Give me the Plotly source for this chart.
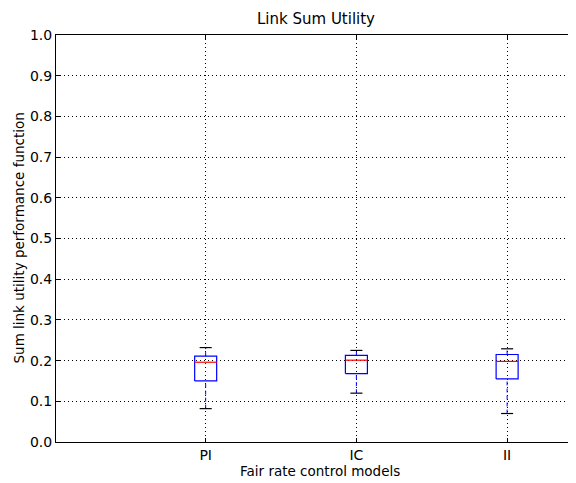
import plotly.graph_objects as go

categories = ["PI", "IC", "II"]
positions = [1, 2, 3]
lower_whisker = [0.082, 0.120, 0.070]
q1 = [0.150, 0.168, 0.155]
median = [0.196, 0.201, 0.198]
q3 = [0.211, 0.213, 0.215]
upper_whisker = [0.232, 0.225, 0.229]
y_ticks = [0.0, 0.1, 0.2, 0.3, 0.4, 0.5, 0.6, 0.7, 0.8, 0.9, 1.0]

BOX_HALF = 0.073
CAP_HALF = 0.04

fig = go.Figure()

for i, p in enumerate(positions):
    # dashed whiskers
    fig.add_trace(go.Scatter(x=[p, p], y=[q3[i], upper_whisker[i]], mode="lines",
                             line=dict(color="blue", width=1, dash="4px,3px"),
                             showlegend=False, hoverinfo="skip"))
    fig.add_trace(go.Scatter(x=[p, p], y=[lower_whisker[i], q1[i]], mode="lines",
                             line=dict(color="blue", width=1, dash="4px,3px"),
                             showlegend=False, hoverinfo="skip"))
    # caps
    for v in (upper_whisker[i], lower_whisker[i]):
        fig.add_trace(go.Scatter(x=[p - CAP_HALF, p + CAP_HALF], y=[v, v], mode="lines",
                                 line=dict(color="black", width=1.2),
                                 showlegend=False, hoverinfo="skip"))
    # box
    fig.add_trace(go.Scatter(x=[p - BOX_HALF, p + BOX_HALF, p + BOX_HALF, p - BOX_HALF, p - BOX_HALF],
                             y=[q1[i], q1[i], q3[i], q3[i], q1[i]], mode="lines",
                             line=dict(color="blue", width=1.2),
                             showlegend=False, hoverinfo="skip"))
    # median
    fig.add_trace(go.Scatter(x=[p - BOX_HALF, p + BOX_HALF], y=[median[i], median[i]], mode="lines",
                             line=dict(color="red", width=1.2),
                             showlegend=False, hoverinfo="skip"))

font = "DejaVu Sans, sans-serif"
# page has an 8px body offset; plot area targeted at page x 56..576, y 35..442
fig.update_layout(
    width=576, height=483,
    margin=dict(l=48, r=8, t=27, b=49),
    plot_bgcolor="white", paper_bgcolor="white",
    font=dict(family=font, size=14, color="black"),
    title=dict(text="Link Sum Utility", x=(316 - 8) / 576, xref="container", xanchor="center",
               y=1 - 11 / 483, yanchor="middle", font=dict(size=15, family=font)),
    xaxis=dict(range=[0.007, 3.457], tickvals=positions, ticktext=categories,
               showgrid=True, gridcolor="black", griddash="1px,3px", gridwidth=1,
               showline=True, linecolor="black", linewidth=1, mirror="ticks",
               ticks="inside", ticklen=4, tickcolor="black", zeroline=False,
               automargin=False, tickfont=dict(size=14)),
    yaxis=dict(range=[0, 1], tickvals=y_ticks, ticktext=[f"{v:.1f}" for v in y_ticks],
               showgrid=True, gridcolor="black", griddash="1px,3px", gridwidth=1,
               showline=True, linecolor="black", linewidth=1, mirror="ticks",
               ticks="inside", ticklen=4, tickcolor="black", zeroline=False,
               automargin=False, tickfont=dict(size=14)),
    annotations=[
        dict(text="Fair rate control models", xref="paper", yref="paper",
             x=(320 - 56) / 520, y=-(471 - 442) / 407, xanchor="center", yanchor="middle",
             showarrow=False, font=dict(size=13.5)),
        dict(text="Sum link utility performance function", xref="paper", yref="paper",
             x=-(56 - 18) / 520, y=0.5, xanchor="center", yanchor="middle", textangle=-90,
             showarrow=False, font=dict(size=13.5)),
    ],
)

fig.write_html("out.html")
